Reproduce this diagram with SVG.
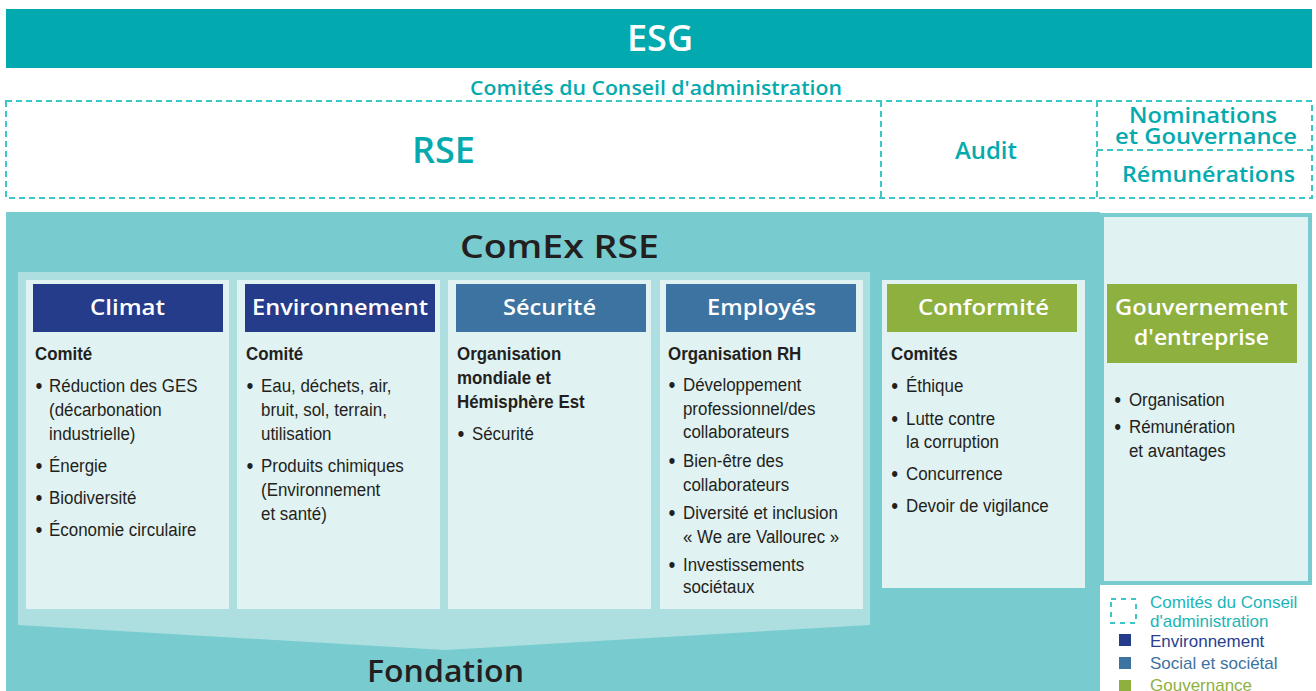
<svg xmlns="http://www.w3.org/2000/svg" width="1316" height="691" viewBox="0 0 1316 691">
<style>
.h{font-family:"Open Sans","Lato","Liberation Sans",sans-serif;font-weight:600}
.tl{fill:#05AAAE}
.wh{fill:#FFFFFF}
.dk{fill:#231F20}
.b{font-family:"Liberation Sans",Arial,sans-serif;font-size:19px;fill:#231F20}
.bb{font-weight:bold}
.bu{font-family:"Liberation Sans",Arial,sans-serif;font-size:22px;fill:#231F20}
.dash{fill:none;stroke:#3CC6C9;stroke-width:2;stroke-dasharray:6 4}
.card{fill:#E1F2F2}
.lg{font-family:"Liberation Sans",Arial,sans-serif;font-size:17px}
</style>
<rect width="1316" height="691" fill="#FFFFFF"/>

<g id="esg">
<rect x="6" y="9" width="1306" height="59" fill="#02A9AE"/>
<text class="h wh" x="627" y="51" font-size="36" textLength="66" lengthAdjust="spacingAndGlyphs">ESG</text>
</g>

<g id="conseil">
<text class="h tl" x="470" y="95" font-size="20" textLength="372" lengthAdjust="spacingAndGlyphs">Comités du Conseil d'administration</text>
<rect class="dash" x="6" y="101" width="1306" height="97"/>
<line class="dash" x1="881" y1="101" x2="881" y2="198"/>
<line class="dash" x1="1097" y1="101" x2="1097" y2="198"/>
<line class="dash" x1="1097" y1="150" x2="1312" y2="150"/>
<text class="h tl" x="412" y="163" font-size="36" textLength="63" lengthAdjust="spacingAndGlyphs">RSE</text>
<text class="h tl" x="955" y="159" font-size="23" textLength="62" lengthAdjust="spacingAndGlyphs">Audit</text>
<text class="h tl" x="1129" y="123" font-size="22" textLength="148" lengthAdjust="spacingAndGlyphs">Nominations</text>
<text class="h tl" x="1115" y="144" font-size="22" textLength="182" lengthAdjust="spacingAndGlyphs">et Gouvernance</text>
<text class="h tl" x="1122" y="182" font-size="22" textLength="173" lengthAdjust="spacingAndGlyphs">Rémunérations</text>
</g>

<g id="comex">
<rect x="6" y="212" width="1094" height="479" fill="#78CCCF"/>
<path d="M18 272 H870 V625 L445 650 L18 625 Z" fill="#ADDFE0"/>
<text class="h dk" x="460" y="258" font-size="33" textLength="199" lengthAdjust="spacingAndGlyphs">ComEx RSE</text>
<text class="h dk" x="367" y="682" font-size="30" textLength="157" lengthAdjust="spacingAndGlyphs">Fondation</text>
</g>

<g id="climat">
<rect class="card" x="26" y="280" width="203" height="329"/>
<rect x="33" y="284" width="190" height="48" fill="#253C8B"/>
<text class="h wh" x="90" y="315" font-size="22" textLength="75" lengthAdjust="spacingAndGlyphs">Climat</text>
<g transform="scale(0.89,1)">
<text class="b bb" x="39.3" y="360">Comité</text>
<text class="bu" x="40" y="393">•</text>
<text class="b" x="55.1" y="392">Réduction des GES</text>
<text class="b" x="55.1" y="416">(décarbonation</text>
<text class="b" x="55.1" y="440">industrielle)</text>
<text class="bu" x="40" y="473">•</text>
<text class="b" x="55.1" y="472">Énergie</text>
<text class="bu" x="40" y="505">•</text>
<text class="b" x="55.1" y="504">Biodiversité</text>
<text class="bu" x="40" y="537">•</text>
<text class="b" x="55.1" y="536">Économie circulaire</text>
</g>
</g>

<g id="environnement">
<rect class="card" x="237" y="280" width="203" height="329"/>
<rect x="245" y="284" width="190" height="48" fill="#253C8B"/>
<text class="h wh" x="252" y="315" font-size="22" textLength="176" lengthAdjust="spacingAndGlyphs">Environnement</text>
<g transform="scale(0.89,1)">
<text class="b bb" x="276.4" y="360">Comité</text>
<text class="bu" x="277" y="393">•</text>
<text class="b" x="293.3" y="392">Eau, déchets, air,</text>
<text class="b" x="293.3" y="416">bruit, sol, terrain,</text>
<text class="b" x="293.3" y="440">utilisation</text>
<text class="bu" x="277" y="473">•</text>
<text class="b" x="293.3" y="472">Produits chimiques</text>
<text class="b" x="293.3" y="496">(Environnement</text>
<text class="b" x="293.3" y="520">et santé)</text>
</g>
</g>

<g id="securite">
<rect class="card" x="448" y="280" width="203" height="329"/>
<rect x="456" y="284" width="190" height="48" fill="#3D73A0"/>
<text class="h wh" x="503" y="315" font-size="22" textLength="93" lengthAdjust="spacingAndGlyphs">Sécurité</text>
<g transform="scale(0.89,1)">
<text class="b bb" x="513.5" y="360">Organisation</text>
<text class="b bb" x="513.5" y="384">mondiale et</text>
<text class="b bb" x="513.5" y="408">Hémisphère Est</text>
<text class="bu" x="514" y="441">•</text>
<text class="b" x="530.3" y="440">Sécurité</text>
</g>
</g>

<g id="employes">
<rect class="card" x="660" y="280" width="203" height="329"/>
<rect x="666" y="284" width="190" height="48" fill="#3D73A0"/>
<text class="h wh" x="707" y="315" font-size="22" textLength="109" lengthAdjust="spacingAndGlyphs">Employés</text>
<g transform="scale(0.89,1)">
<text class="b bb" x="750.6" y="360">Organisation RH</text>
<text class="bu" x="751" y="392">•</text>
<text class="b" x="767.4" y="391">Développement</text>
<text class="b" x="767.4" y="415">professionnel/des</text>
<text class="b" x="767.4" y="438">collaborateurs</text>
<text class="bu" x="751" y="468">•</text>
<text class="b" x="767.4" y="467">Bien-être des</text>
<text class="b" x="767.4" y="491">collaborateurs</text>
<text class="bu" x="751" y="520">•</text>
<text class="b" x="767.4" y="519">Diversité et inclusion</text>
<text class="b" x="767.4" y="543">« We are Vallourec »</text>
<text class="bu" x="751" y="572">•</text>
<text class="b" x="767.4" y="571">Investissements</text>
<text class="b" x="767.4" y="593">sociétaux</text>
</g>
</g>

<g id="conformite">
<rect class="card" x="882" y="280" width="203" height="308"/>
<rect x="887" y="284" width="190" height="48" fill="#8EB03F"/>
<text class="h wh" x="918" y="315" font-size="22" textLength="131" lengthAdjust="spacingAndGlyphs">Conformité</text>
<g transform="scale(0.89,1)">
<text class="b bb" x="1001.1" y="360">Comités</text>
<text class="bu" x="1001.5" y="393">•</text>
<text class="b" x="1018" y="392">Éthique</text>
<text class="bu" x="1001.5" y="426">•</text>
<text class="b" x="1018" y="425">Lutte contre</text>
<text class="b" x="1018" y="448">la corruption</text>
<text class="bu" x="1001.5" y="481">•</text>
<text class="b" x="1018" y="480">Concurrence</text>
<text class="bu" x="1001.5" y="513">•</text>
<text class="b" x="1018" y="512">Devoir de vigilance</text>
</g>
</g>

<g id="gouvernement">
<rect x="1102" y="215" width="208" height="368" fill="#E1F2F2" stroke="#78CCCF" stroke-width="4"/>
<rect x="1107" y="284" width="190" height="79" fill="#8EB03F"/>
<text class="h wh" x="1115" y="315" font-size="22" textLength="173" lengthAdjust="spacingAndGlyphs">Gouvernement</text>
<text class="h wh" x="1134" y="345" font-size="22" textLength="135" lengthAdjust="spacingAndGlyphs">d'entreprise</text>
<g transform="scale(0.89,1)">
<text class="bu" x="1252" y="407">•</text>
<text class="b" x="1268.5" y="406">Organisation</text>
<text class="bu" x="1252" y="434">•</text>
<text class="b" x="1268.5" y="433">Rémunération</text>
<text class="b" x="1268.5" y="457">et avantages</text>
</g>
</g>

<g id="legend">
<rect x="1111" y="599" width="25" height="24" fill="none" stroke="#3CC6C9" stroke-width="2" stroke-dasharray="5 5"/>
<text class="lg" x="1150" y="608" fill="#1BB5B8">Comités du Conseil</text>
<text class="lg" x="1150" y="627" fill="#1BB5B8">d'administration</text>
<rect x="1119" y="634" width="12" height="12" fill="#253C8B"/>
<text class="lg" x="1150" y="647" fill="#2B3F8F">Environnement</text>
<rect x="1119" y="657" width="12" height="12" fill="#3D73A0"/>
<text class="lg" x="1150" y="669" fill="#3D73A0">Social et sociétal</text>
<rect x="1119" y="680" width="12" height="12" fill="#8EB03F"/>
<text class="lg" x="1150" y="691" fill="#8EB03F">Gouvernance</text>
</g>
</svg>
